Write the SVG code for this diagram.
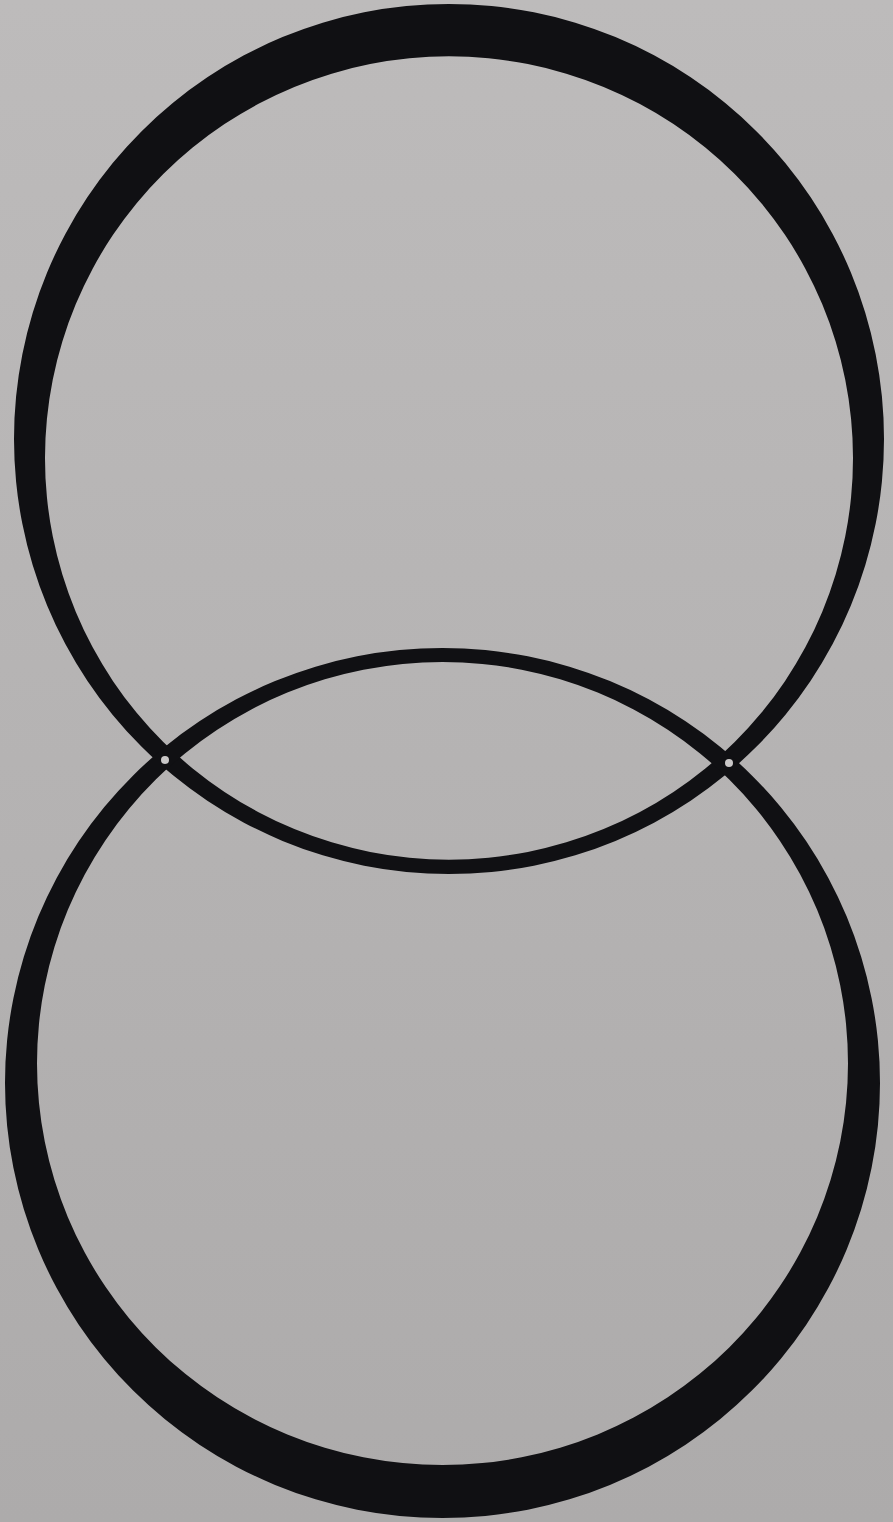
<svg xmlns="http://www.w3.org/2000/svg" width="893" height="1522" viewBox="0 0 893 1522">
  <defs>
    <linearGradient id="bg" x1="0" y1="0" x2="0" y2="1">
      <stop offset="0" stop-color="#bdbbbb"/>
      <stop offset="0.5" stop-color="#b5b3b3"/>
      <stop offset="1" stop-color="#adabab"/>
    </linearGradient>
  </defs>
  <style>
    .ring { fill: #101013; fill-rule: evenodd; }
    .hole { fill: #c9c7c7; }
  </style>
  <rect x="0" y="0" width="893" height="1522" fill="url(#bg)"/>
  <g id="top-ring">
    <path class="ring" d="M 14 439 A 435 435 0 1 0 884 439 A 435 435 0 1 0 14 439 Z M 45 458 A 404 401.5 0 1 0 853 458 A 404 401.5 0 1 0 45 458 Z"/>
  </g>
  <g id="bottom-ring">
    <path class="ring" d="M 5 1083 A 437.5 435 0 1 0 880 1083 A 437.5 435 0 1 0 5 1083 Z M 37 1063.5 A 405.5 401.5 0 1 0 848 1063.5 A 405.5 401.5 0 1 0 37 1063.5 Z"/>
  </g>
  <g id="joints">
    <circle class="hole" cx="165" cy="760" r="4"/>
    <circle class="hole" cx="729" cy="763" r="4"/>
  </g>
</svg>
